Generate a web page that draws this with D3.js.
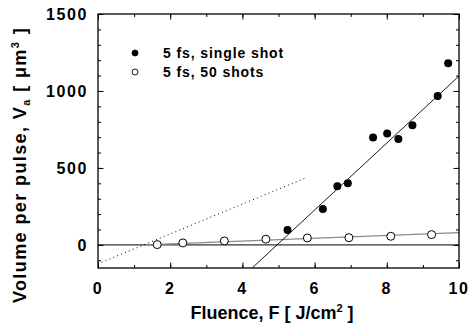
<!DOCTYPE html>
<html>
<head>
<meta charset="utf-8">
<script src="https://cdn.jsdelivr.net/npm/d3@7"></script>
<style>
  body { margin: 0; background: #fff; }
  text { font-family: "Liberation Sans", Arial, sans-serif; font-weight: bold; fill: #000; }
</style>
</head>
<body>
<div id="chart"></div>
<script>
// single shot (filled circles)
const singleF = [5.25, 6.23, 6.63, 6.92, 7.62, 8.01, 8.32, 8.71, 9.41, 9.70];
const singleV = [97, 234, 381, 400, 697, 723, 688, 777, 968, 1180];
// 50 shots (open circles)
const multiF = [1.64, 2.35, 3.50, 4.65, 5.80, 6.95, 8.11, 9.24];
const multiV = [2, 13, 26, 37, 45, 47, 56, 67];
// fitted / guide lines, [F, V] end points
const singleFit = [[4.27, -150], [10, 1097]];
const multiFit = [[1.3, 0], [10, 80]];
const dottedFit = [[0.1, -113], [5.75, 435]];
const zeroLine = [[0, 0], [10, 0]];

const xTicks = [0, 2, 4, 6, 8, 10];
const yTicks = [0, 500, 1000, 1500];
const legendLabels = ["5 fs, single shot", "5 fs, 50 shots"];

const W = 471, H = 329;
const margin = { top: 14, right: 12, bottom: 61, left: 98 };
const width = W - margin.left - margin.right;
const height = H - margin.top - margin.bottom;

const svg = d3.select("#chart").append("svg")
    .attr("width", W).attr("height", H);
const g = svg.append("g").attr("transform", `translate(${margin.left},${margin.top})`);

const x = d3.scaleLinear().domain([0, 10]).range([0, width]);
const y = d3.scaleLinear().domain([-150, 1500]).range([height, 0]);

g.append("clipPath").attr("id", "clip").append("rect")
    .attr("width", width).attr("height", height);

const line = d3.line().x((d) => x(d[0])).y((d) => y(d[1]));
const plot = g.append("g").attr("clip-path", "url(#clip)");

plot.append("path").datum(zeroLine).attr("d", line)
    .attr("fill", "none").attr("stroke", "#000").attr("stroke-width", 1);
plot.append("path").datum(multiFit).attr("d", line)
    .attr("fill", "none").attr("stroke", "#8a8a8a").attr("stroke-width", 1.3);
plot.append("path").datum(dottedFit).attr("d", line)
    .attr("fill", "none").attr("stroke", "#000").attr("stroke-width", 1)
    .attr("stroke-dasharray", "1,3.2");
plot.append("path").datum(singleFit).attr("d", line)
    .attr("fill", "none").attr("stroke", "#000").attr("stroke-width", 0.9);

// axes: major and minor ticks, all inward, on four sides
function ticks(axis, vals, size) {
    return axis.tickValues(vals).tickSize(size).tickFormat("");
}
const xMinor = d3.range(0, 11, 1);
const yMinor = d3.range(-100, 1501, 100);
const yMajor = [0, 500, 1000, 1500];

const axes = [
    [d3.axisBottom(x), xMinor, -3, `translate(0,${height})`],
    [d3.axisBottom(x), xTicks, -5.5, `translate(0,${height})`],
    [d3.axisTop(x), xMinor, -3, null],
    [d3.axisTop(x), xTicks, -5.5, null],
    [d3.axisLeft(y), yMinor, -3, null],
    [d3.axisLeft(y), yMajor, -5.5, null],
    [d3.axisRight(y), yMinor, -3, `translate(${width},0)`],
    [d3.axisRight(y), yMajor, -5.5, `translate(${width},0)`],
];
axes.forEach(([ax, vals, size, tr]) => {
    const a = g.append("g").call(ticks(ax, vals, size));
    if (tr) a.attr("transform", tr);
    a.select(".domain").remove();
    a.selectAll("line").attr("stroke", "#000").attr("stroke-width", 1);
});

g.append("rect").attr("width", width).attr("height", height)
    .attr("fill", "none").attr("stroke", "#000").attr("stroke-width", 1.3);

// tick labels
g.selectAll(".xl").data(xTicks).enter().append("text")
    .attr("x", (d) => x(d)).attr("y", height + 26)
    .attr("text-anchor", "middle").style("font-size", "16px")
    .style("letter-spacing", "1.5px")
    .text((d) => d);
g.selectAll(".yl").data(yTicks).enter().append("text")
    .attr("x", -10).attr("y", (d) => y(d)).attr("dy", "0.36em")
    .attr("text-anchor", "end").style("font-size", "16px")
    .style("letter-spacing", "1.6px")
    .text((d) => d);

// points
g.selectAll(".m").data(multiF).enter().append("circle")
    .attr("cx", (d) => x(d)).attr("cy", (d, i) => y(multiV[i])).attr("r", 4)
    .attr("fill", "#fff").attr("stroke", "#000").attr("stroke-width", 1);
g.selectAll(".s").data(singleF).enter().append("circle")
    .attr("cx", (d) => x(d)).attr("cy", (d, i) => y(singleV[i])).attr("r", 4)
    .attr("fill", "#000");

// legend
const leg = svg.append("g");
legendLabels.forEach((t, i) => {
    const cy = 53 + i * 19;
    leg.append("circle").attr("cx", 135).attr("cy", cy).attr("r", 3)
        .attr("fill", i === 0 ? "#000" : "#fff").attr("stroke", "#000").attr("stroke-width", 0.9);
    leg.append("text").attr("x", 163).attr("y", cy + 5)
        .style("font-size", "14px").style("letter-spacing", "0.9px").text(t);
});

// axis titles
const xt = svg.append("text").attr("x", 272).attr("y", 319)
    .attr("text-anchor", "middle").style("font-size", "18px");
xt.append("tspan").text("Fluence, F [ J/cm");
xt.append("tspan").attr("dy", -7).style("font-size", "11px").text("2");
xt.append("tspan").attr("dy", 7).text(" ]");

const yt = svg.append("text").attr("transform", "translate(26,165) rotate(-90)")
    .attr("text-anchor", "middle").style("font-size", "18px").style("letter-spacing", "1.4px");
yt.append("tspan").text("Volume per pulse,  V");
yt.append("tspan").attr("dy", 4).style("font-size", "11px").text("a");
yt.append("tspan").attr("dy", -4).text(" [ \u03bcm");
yt.append("tspan").attr("dy", -7).style("font-size", "11px").text("3");
yt.append("tspan").attr("dy", 7).text(" ]");
</script>
</body>
</html>
